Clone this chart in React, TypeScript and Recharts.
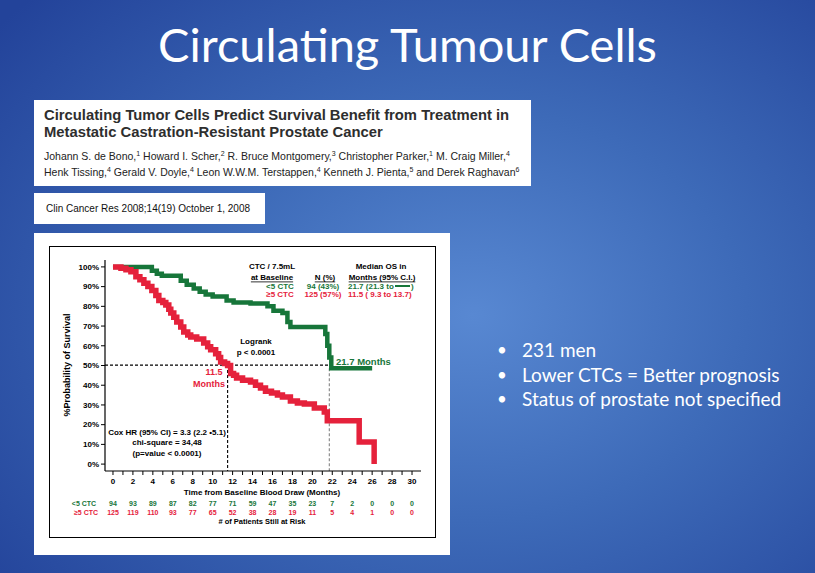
import React from "react";
import { LineChart, Line, XAxis, YAxis, ReferenceLine } from "recharts";

// Kaplan-Meier curves (months, % surviving)
const lowTime = [0, 3.9, 4.4, 4.9, 6.8, 7.4, 8.1, 8.7, 9.3, 10.0, 11.4, 12.1, 13.8, 15.5, 16.1, 17.0, 17.5, 17.8, 21.3, 21.5, 21.7, 21.9, 26.0];
const lowSurv = [100, 98, 96.5, 95.5, 93, 91, 89, 87.4, 86, 85, 83, 82, 81.5, 80, 77.8, 76.6, 72, 69.5, 66, 60, 54, 48.6, 48.6];

const highTime = [0, 0.8, 1.3, 1.8, 2.3, 2.7, 3.1, 3.5, 3.9, 4.3, 4.6, 5.0, 5.3, 5.6, 5.8, 6.1, 6.4, 6.8, 7.1, 7.5, 7.8, 8.4, 9.1, 9.5, 9.8, 10.3, 10.6, 10.8, 11.2, 11.5, 11.8, 12.1, 12.4, 13.0, 13.8, 14.3, 14.8, 15.3, 15.9, 16.5, 17.0, 17.8, 18.5, 19.2, 20.2, 21.2, 21.5, 24.7, 26.2];
const highSurv = [100, 99.3, 98.5, 97.6, 95, 93.5, 91.7, 90, 88, 85.5, 83, 82, 80.7, 78.5, 76.6, 74.5, 72, 69.5, 67, 65.5, 64.5, 63.5, 61.4, 59.5, 58, 56, 54, 51.8, 51, 50, 46, 45, 43.7, 42.5, 41.6, 40, 38.6, 37, 36, 35, 34, 32, 31, 30.5, 28.4, 26.4, 22, 11.2, 0];

const monthTicks = Array.from({ length: 31 }, (_, i) => i);
const pctTicks = [0, 10, 20, 30, 40, 50, 60, 70, 80, 90, 100];

const riskMonths = [0, 2, 4, 6, 8, 10, 12, 14, 16, 18, 20, 22, 24, 26, 28, 30];
const riskLow = [94, 93, 89, 87, 82, 77, 71, 59, 47, 35, 23, 7, 2, 0, 0, 0];
const riskHigh = [125, 119, 110, 93, 77, 65, 52, 38, 28, 19, 11, 5, 4, 1, 0, 0];

const medianLow = 21.7;
const medianHigh = 11.5;

const bullets = ["231 men", "Lower CTCs = Better prognosis", "Status of prostate not specified"];

const GREEN = "#17763a";
const RED = "#e5213b";
const SANS = "'Liberation Sans', Arial, sans-serif";

const lowData = lowTime.map((t, i) => ({ t, s: lowSurv[i] }));
const highData = highTime.map((t, i) => ({ t, s: highSurv[i] }));

const supStyle = { fontSize: 7, lineHeight: 0 };

function MonthTick(props: any) {
  const { x, y, payload } = props;
  const v = payload.value;
  if (v % 2 !== 0) return null;
  const idx = riskMonths.indexOf(v);
  return (
    <g fontFamily={SANS} fontWeight="bold" fontSize={8} textAnchor="middle">
      <text x={x} y={y + 7}>{v}</text>
      {idx >= 0 && (
        <>
          <text x={x} y={y + 29} fill={GREEN} fontSize={7}>{riskLow[idx]}</text>
          <text x={x} y={y + 38} fill={RED} fontSize={7}>{riskHigh[idx]}</text>
        </>
      )}
    </g>
  );
}

function KMChart() {
  return (
    <LineChart width={416} height={322} margin={{ top: 27, right: 29, bottom: 0, left: 0 }}>
      <XAxis
        xAxisId="m"
        type="number"
        dataKey="t"
        domain={[-0.8, 30.9]}
        allowDataOverflow
        ticks={monthTicks}
        interval={0}
        height={84}
        tickSize={4}
        tickMargin={2}
        tick={<MonthTick />}
        axisLine={{ stroke: "#000", strokeWidth: 1.2 }}
        tickLine={{ stroke: "#000" }}
      />
      <YAxis
        yAxisId="p"
        type="number"
        domain={[-3.5, 103.5]}
        allowDataOverflow
        ticks={pctTicks}
        interval={0}
        width={71}
        tickSize={4}
        tickMargin={2}
        tickFormatter={(v: number) => `${v}%`}
        tick={{ fontSize: 8, fontWeight: "bold", fill: "#000", fontFamily: SANS }}
        axisLine={{ stroke: "#000", strokeWidth: 1.2 }}
        tickLine={{ stroke: "#000" }}
      />
      <ReferenceLine
        xAxisId="m"
        yAxisId="p"
        segment={[{ x: -0.8, y: 50.2 }, { x: medianLow, y: 50.2 }]}
        stroke="#000"
        strokeDasharray="3 2"
        strokeWidth={1.1}
        ifOverflow="visible"
      />
      <ReferenceLine
        xAxisId="m"
        yAxisId="p"
        segment={[{ x: medianHigh, y: 50.2 }, { x: medianHigh, y: -3.5 }]}
        stroke="#000"
        strokeDasharray="3 2"
        strokeWidth={1.1}
        ifOverflow="visible"
      />
      <ReferenceLine
        xAxisId="m"
        yAxisId="p"
        segment={[{ x: medianLow, y: 48.6 }, { x: medianLow, y: -3.5 }]}
        stroke="#666"
        strokeDasharray="3 2"
        strokeWidth={0.9}
        ifOverflow="visible"
      />
      <Line
        xAxisId="m"
        yAxisId="p"
        data={lowData}
        dataKey="s"
        type="stepAfter"
        stroke={GREEN}
        strokeWidth={4.5}
        dot={false}
        isAnimationActive={false}
      />
      <Line
        xAxisId="m"
        yAxisId="p"
        data={highData}
        dataKey="s"
        type="stepAfter"
        stroke={RED}
        strokeWidth={5.5}
        dot={false}
        isAnimationActive={false}
      />
    </LineChart>
  );
}

// text laid over the figure, in page coordinates
function FigureText() {
  const b = { fontFamily: SANS, fontWeight: "bold" as const, fontSize: 8 };
  return (
    <svg width={815} height={573} style={{ position: "absolute", left: 0, top: 0, pointerEvents: "none" }}>
      <g {...b} dominantBaseline="central">
        <text x={272} y={266} textAnchor="middle">CTC / 7.5mL</text>
        <text x={272} y={277} textAnchor="middle" textDecoration="underline">at Baseline</text>
        <text x={325} y={277} textAnchor="middle" textDecoration="underline">N (%)</text>
        <text x={381} y={266} textAnchor="middle">Median OS in</text>
        <text x={382} y={277} textAnchor="middle" textDecoration="underline">Months (95% C.I.)</text>

        <text x={280} y={286} textAnchor="middle" fill={GREEN}>&lt;5 CTC</text>
        <text x={323} y={286} textAnchor="middle" fill={GREEN}>94 (43%)</text>
        <text x={348} y={286} fill={GREEN}>21.7  (21.3 to</text>
        <line x1={395} y1={286} x2={410} y2={286} stroke={GREEN} strokeWidth={2} />
        <text x={411} y={286} fill={GREEN}>)</text>

        <text x={280} y={294} textAnchor="middle" fill={RED}>≥5 CTC</text>
        <text x={323} y={294} textAnchor="middle" fill={RED}>125 (57%)</text>
        <text x={348} y={294} fill={RED}>11.5  ( 9.3 to 13.7)</text>

        <text x={256} y={341} textAnchor="middle">Logrank</text>
        <text x={256} y={352} textAnchor="middle">p &lt; 0.0001</text>

        <text x={336} y={361} fill={GREEN} fontSize={9.5}>21.7 Months</text>
        <text x={214} y={372} textAnchor="middle" fill={RED} fontSize={9}>11.5</text>
        <text x={209} y={384} textAnchor="middle" fill={RED} fontSize={9}>Months</text>

        <text x={167} y={432} textAnchor="middle">Cox HR (95% CI) = 3.3 (2.2 •5.1)</text>
        <text x={167} y={442} textAnchor="middle">chi-square = 34,48</text>
        <text x={167} y={453} textAnchor="middle">(p=value &lt; 0.0001)</text>

        <text x={262} y={492} textAnchor="middle">Time from Baseline Blood Draw (Months)</text>
        <text x={84} y={503} textAnchor="middle" fill={GREEN} fontSize={7}>&lt;5 CTC</text>
        <text x={86} y={512} textAnchor="middle" fill={RED} fontSize={7}>≥5 CTC</text>
        <text x={262} y={521} textAnchor="middle" fontSize={7.5}>
          # of Patients Still at Risk
        </text>

        <text x={67} y={365} textAnchor="middle" fontSize={9} transform="rotate(-90 67 365)">
          %Probability of Survival
        </text>
      </g>
    </svg>
  );
}

export default function App() {
  return (
    <div
      style={{
        position: "absolute",
        left: 0,
        top: 0,
        width: 815,
        height: 573,
        overflow: "hidden",
        background: "radial-gradient(ellipse 75% 80% at 58% 55%, #5888d2 0%, #3d6ab8 45%, #23439a 100%)",
      }}
    >
      <div
        style={{
          position: "absolute",
          left: 0,
          top: 19,
          width: 815,
          height: 50,
          lineHeight: "50px",
          textAlign: "center",
          color: "#fff",
          fontFamily: "Lato, 'Open Sans', sans-serif",
          fontSize: 47,
        }}
      >
        Circulating Tumour Cells
      </div>

      <div
        style={{
          position: "absolute",
          left: 34,
          top: 100,
          width: 497,
          height: 86,
          background: "#fff",
          fontFamily: SANS,
          color: "#222",
        }}
      >
        <div
          style={{
            position: "absolute",
            left: 10,
            top: 7,
            fontSize: 14.8,
            fontWeight: "bold",
            lineHeight: "17px",
            color: "#2e2e2e",
            whiteSpace: "nowrap",
          }}
        >
          Circulating Tumor Cells Predict Survival Benefit from Treatment in
          <br />
          Metastatic Castration-Resistant Prostate Cancer
        </div>
        <div style={{ position: "absolute", left: 10, top: 48, fontSize: 10.5, lineHeight: "16px", color: "#222", whiteSpace: "nowrap" }}>
          Johann S. de Bono,<sup style={supStyle}>1</sup> Howard I. Scher,<sup style={supStyle}>2</sup> R. Bruce Montgomery,
          <sup style={supStyle}>3</sup> Christopher Parker,<sup style={supStyle}>1</sup> M. Craig Miller,<sup style={supStyle}>4</sup>
          <br />
          Henk Tissing,<sup style={supStyle}>4</sup> Gerald V. Doyle,<sup style={supStyle}>4</sup> Leon W.W.M. Terstappen,
          <sup style={supStyle}>4</sup> Kenneth J. Pienta,<sup style={supStyle}>5</sup> and Derek Raghavan<sup style={supStyle}>6</sup>
        </div>
      </div>

      <div
        style={{
          position: "absolute",
          left: 34,
          top: 193,
          width: 231,
          height: 31,
          background: "#fff",
          fontFamily: SANS,
          fontSize: 10,
          lineHeight: "31px",
          color: "#111",
          paddingLeft: 12,
          boxSizing: "border-box",
        }}
      >
        Clin Cancer Res 2008;14(19) October 1, 2008
      </div>

      <div style={{ position: "absolute", left: 34, top: 233, width: 416, height: 322, background: "#fff" }}>
        <div
          style={{
            position: "absolute",
            left: 15,
            top: 13,
            width: 387,
            height: 292,
            border: "1.5px solid #000",
            boxSizing: "border-box",
          }}
        />
        <div style={{ position: "absolute", left: 0, top: 0 }}>
          <KMChart />
        </div>
      </div>

      <FigureText />

      <div
        style={{
          position: "absolute",
          left: 497,
          top: 338,
          color: "#fff",
          fontFamily: "Lato, 'Open Sans', sans-serif",
          fontSize: 19,
          lineHeight: "24.5px",
        }}
      >
        {bullets.map((t) => (
          <div key={t} style={{ display: "flex" }}>
            <span style={{ width: 25, fontSize: 17 }}>•</span>
            <span>{t}</span>
          </div>
        ))}
      </div>
    </div>
  );
}
